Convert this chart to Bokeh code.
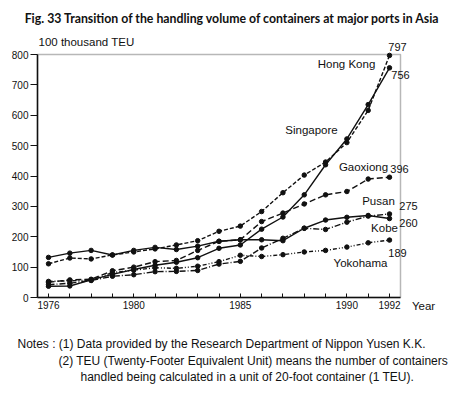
from bokeh.plotting import figure
from bokeh.models import Label, FixedTicker, BoxAnnotation
from bokeh.embed import file_html
from bokeh.resources import INLINE

# ---------------- data ----------------
years = list(range(1976, 1993))
hong_kong = [111, 130, 127, 140, 150, 160, 173, 187, 218, 235, 283, 345, 403, 446, 510, 616, 797]
singapore = [37, 38, 58, 76, 92, 106, 116, 131, 162, 173, 225, 265, 338, 437, 522, 635, 756]
gaoxiong = [50, 58, 60, 88, 100, 118, 122, 155, 185, 190, 250, 278, 308, 338, 349, 390, 396]
pusan = [42, 47, 56, 70, 75, 85, 86, 89, 110, 119, 163, 195, 228, 224, 248, 268, 275]
kobe = [132, 146, 155, 140, 155, 165, 158, 169, 185, 190, 190, 187, 228, 255, 264, 270, 260]
yokohama = [53, 55, 57, 82, 90, 98, 96, 103, 118, 139, 135, 141, 150, 155, 166, 180, 189]
labeled_years = [1976, 1980, 1985, 1990, 1992]
y_ticks = [0, 100, 200, 300, 400, 500, 600, 700, 800]

INK = "#111111"
FONT = "Liberation Sans"

# canvas geometry: the whole canvas is the plot frame, axes sit at fixed locations
W, H = 453, 386
PX_PER_YEAR = 21.3125
X_1976_PX = 48
PX_PER_UNIT = 0.30375
Y_ZERO_PX = 297
XL = 1976 - X_1976_PX / PX_PER_YEAR
XR = 1976 + (W - X_1976_PX) / PX_PER_YEAR
YT = Y_ZERO_PX / PX_PER_UNIT
YB = -(H - Y_ZERO_PX) / PX_PER_UNIT
AX0, AX1 = 1975.484, 1992.516   # extent of the boxed chart area (x)
AY0, AY1 = 0, 800                # extent of the boxed chart area (y)


def dx(px):
    return XL + px / W * (XR - XL)


def dy(py):
    return YT - py / H * (YT - YB)


p = figure(width=W, height=H, x_range=(XL, XR), y_range=(YB, YT),
           output_backend="svg", toolbar_location=None,
           min_border=0, min_border_left=0, min_border_right=0,
           min_border_top=0, min_border_bottom=0)
p.background_fill_color = "white"
p.border_fill_color = "white"
p.grid.visible = False
p.outline_line_color = None

xa = p.xaxis[0]
xa.fixed_location = AY0
xa.bounds = (AX0, AX1)
xa.ticker = FixedTicker(ticks=years)
xa.major_label_overrides = {y: (str(y) if y in labeled_years else "") for y in years}
xa.major_tick_in = 4
xa.major_tick_out = 0
xa.minor_tick_line_color = None
xa.axis_line_width = 1.5
xa.axis_line_color = INK
xa.major_tick_line_color = INK
xa.major_label_standoff = 3
xa.major_label_text_font = FONT
xa.major_label_text_font_size = "10px"
xa.major_label_text_color = INK

ya = p.yaxis[0]
ya.fixed_location = AX0
ya.bounds = (AY0, AY1)
ya.ticker = FixedTicker(ticks=y_ticks)
ya.major_tick_in = 0
ya.major_tick_out = 7
ya.minor_tick_line_color = None
ya.axis_line_width = 1.5
ya.axis_line_color = INK
ya.major_tick_line_color = INK
ya.major_label_standoff = 2
ya.major_label_text_font = FONT
ya.major_label_text_font_size = "10px"
ya.major_label_text_color = INK

# box around the chart area (top and right edges)
p.add_layout(BoxAnnotation(left=AX0, right=AX1, bottom=AY0, top=AY1,
                           fill_color=None, line_color=INK, line_width=1.5))

series = [
    (hong_kong, "4 2"),
    (singapore, "solid"),
    (gaoxiong, "6 3"),
    (pusan, "6 2 1 2"),
    (kobe, "solid"),
    (yokohama, "4 2 1 2 1 2"),
]
for vals, dash in series:
    p.line(years, vals, line_color=INK, line_width=1.4, line_dash=dash)
    p.scatter(years, vals, size=4.5, color=INK)


def lab(text, x, y, size="11.5px", align="center", weight="normal", font=FONT):
    p.add_layout(Label(x=dx(x), y=dy(y), text=text,
                       text_font=font, text_font_size=size, text_font_style=weight,
                       text_align=align, text_baseline="middle", text_color=INK))


# series names
lab("Hong Kong", 346, 63)
lab("Singapore", 311, 129)
lab("Gaoxiong", 363, 166)
lab("Pusan", 378, 200)
lab("Kobe", 384, 227)
lab("Yokohama", 360, 262)

# end values anchored to the last data point
ends = [(hong_kong, 8, 8), (singapore, 11, -7), (gaoxiong, 10, 8),
        (pusan, 19, 8), (kobe, 19, -4), (yokohama, 8, -13)]
for vals, xo, yo in ends:
    p.add_layout(Label(x=years[-1], y=vals[-1], x_offset=xo, y_offset=yo,
                       text=str(vals[-1]), text_font=FONT, text_font_size="11px",
                       text_align="center", text_baseline="middle", text_color=INK))

lab("Year", 423, 305, size="11.5px")
lab("100 thousand TEU", 38, 41, size="11.5px", align="left")

lab("Fig. 33 Transition of the handling volume of containers at major ports in Asia",
    232, 18, size="12.3px", weight="bold", font="Lato")

lab("Notes : (1) Data provided by the Research Department of Nippon Yusen K.K.",
    17, 343, size="12px", align="left")
lab("(2) TEU (Twenty-Footer Equivalent Unit) means the number of containers",
    58, 360, size="12px", align="left")
lab("handled being calculated in a unit of 20-foot container (1 TEU).",
    80, 376, size="12px", align="left")

open("out.html", "w").write(file_html(p, INLINE))
